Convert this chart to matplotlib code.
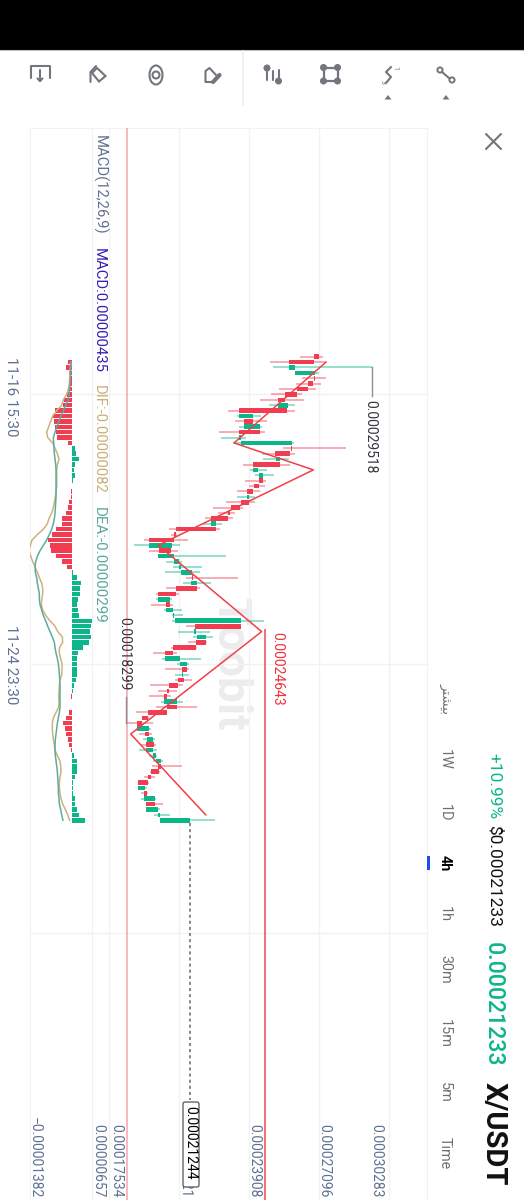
import numpy as np
import matplotlib
matplotlib.use("Agg")
import matplotlib.pyplot as plt
from matplotlib.patches import FancyBboxPatch, Ellipse, Circle, Polygon

# ---- data: prices in units of 1e-8 ----
opens = [27097,26885,25746,26005,26930,26839,26597,26096,25549,25246,25655,23469,24107,23682,24411,23454,
         23545,25883,25792,25124,25337,24077,24350,24547,24365,24107,23819,23910,23515,23060,22938,22164,
         22392,20585,20494,19356,20373,19781,20509,20707,20798,21375,21284,21557,20585,19750,
         20327,20115,20433,20540,23530,21420,21526,21951,21496,20449,20084,20767,21071,20858,20950,20676,
         20251,20160,20054,20616,20160,19325,19037,18794,19340,19249,19583,19219,19553,19674,19887,19796,
         19432,19325,18870,19249,19143,19629,19219,19766,19857]
highs = [27295,27416,29518,27097,27416,27173,26946,26338,26414,26005,26005,24471,24745,24502,24638,23758,
         25974,28312,26005,25716,25777,24745,25033,24669,24638,24411,24183,24183,23652,23272,23166,22665,
         22589,20616,21117,20783,20676,22862,20843,21784,21678,23394,22194,21678,20737,20388,
         20464,20858,20919,24593,23530,22134,22285,22012,21557,20646,21709,21192,21177,21192,21314,20919,
         20646,20358,20889,21557,20191,19356,19523,19462,19507,19614,19659,19735,19735,19978,20874,19857,
         19629,19371,19280,19310,19674,20008,19857,20312,22346]
lows = [26232,24866,25003,26005,26308,26035,25291,24912,24411,24836,22953,23378,23272,23469,22543,22650,
        23166,25473,24517,24562,23652,23955,24183,23712,23925,23378,23378,22847,22270,22513,21921,21830,
        20266,20342,19128,18688,19356,19781,20130,20464,20069,21025,20919,20115,19659,19659,
        19432,20054,20388,20388,21041,20692,21375,21147,20358,19553,19933,20646,20099,20540,20540,19401,
        19781,19356,19887,19659,18748,19022,18299,18794,18900,19098,18976,18915,19356,19553,19507,19401,
        19113,18840,18870,18991,18976,19219,19219,19599,19857]
closes = [26885,25746,26005,26915,26855,26581,26096,25549,25246,25671,23454,24107,23682,24411,23469,23530,
          25883,25807,25109,25337,24077,24335,24532,24380,24122,23834,23894,23530,23090,22953,22164,22392,
          20570,20494,19356,20388,19796,20494,20707,20798,21314,21314,21542,20585,19750,20312,
          20130,20449,20509,23530,21435,21511,21936,21496,20464,20084,20767,21071,20843,20919,20692,20251,
          20160,20054,20616,20160,19325,19037,18794,19340,19189,19553,19219,19553,19659,19902,19781,19447,
          19325,18870,19189,19128,19629,19219,19766,19857,21244]

macd_hist = [0,-142,-197,-88,-88,-88,-121,-175,-252,-307,-559,-614,-592,-559,-526,-504,-142,99,132,219,99,66,88,44,5,
             -22,-33,-88,-132,-197,-318,-329,-537,-647,-800,-723,-701,-526,-340,-175,22,175,307,263,263,186,
             153,186,241,658,625,603,636,570,373,197,175,175,175,175,142,66,22,-33,11,5,-99,-197,-285,-241,
             -208,-132,-88,-22,66,153,175,153,110,33,44,33,110,99,175,230,438]
dif = [np.nan,-44,-55,-66,-77,-88,-121,-175,-285,-340,-504,-636,-701,-767,-833,-800,-636,-559,-482,-427,-482,
       -504,-504,-504,-504,-526,-548,-581,-614,-669,-756,-811,-943,-1140,-1315,-1370,-1414,-1359,-1293,-1217,
       -1140,-1074,-997,-964,-964,-997,-1008,-964,-866,-723,-559,-471,-318,-307,-416,-416,-373,-329,-329,-340,
       -395,-416,-427,-438,-427,-438,-526,-614,-647,-647,-636,-614,-581,-559,-482,-395,-373,-362,-395,-416,
       -416,-395,-362,-307,-219,-142,-82]
dea = [np.nan,-33,-38,-44,-55,-66,-77,-99,-121,-208,-285,-362,-427,-504,-559,-614,-603,-592,-581,-559,-537,
       -526,-526,-526,-526,-526,-526,-537,-548,-559,-581,-614,-669,-745,-833,-943,-1052,-1140,-1195,-1217,
       -1206,-1162,-1140,-1107,-1074,-1074,-1052,-997,-943,-866,-800,-723,-647,-581,-559,-526,-482,-449,-427,
       -416,-405,-395,-395,-395,-395,-395,-416,-449,-482,-504,-526,-548,-559,-559,-548,-526,-504,-482,-471,
       -460,-449,-449,-427,-416,-373,-340,-299]

zigzag_idx = [1, 16, 21, 35, 51, 70, 85]
zigzag_price = [27416, 23227, 26839, 19781, 24487, 18521, 21936]

price_ticks = [17534, 20721, 23908, 27096, 30283]
price_labels = ["0.00017534", "0.00020721", "0.00023908", "0.00027096", "0.00030283"]
macd_ticks = [-1382, 657]
macd_labels = ["-0.00001382", "0.00000657"]
time_idx = [7, 57, 107]
time_labels = ["11-16 15:30", "11-24 23:30"]
timeframes = ["1W", "1D", "4h", "1h", "30m", "15m", "5m", "Time"]
high_price, low_price, line_price, last_price = 29518, 18299, 24643, 21244

# ---- styles ----
W, H = 524, 1200
RED, GREEN = "#f23c52", "#0db58a"
GRID = "#f2f2f2"
AXTXT = "#5f7192"
plt.rcParams["font.family"] = ["Roboto", "DejaVu Sans"]
fig = plt.figure(figsize=(W / 100, H / 100), dpi=100, facecolor="white")


def box(x0, x1, y0, y1, z):
    ax = fig.add_axes([x0 / W, 1 - y1 / H, (x1 - x0) / W, (y1 - y0) / H], zorder=z)
    ax.patch.set_alpha(0)
    return ax


def row_at(y):
    return (y - 356.7) / 5.39


YLIM = (row_at(1200), row_at(128))
S = 1e-8
PX = 45.54  # price units per pixel

under = box(0, W, 0, H, 0)
under.set_xlim(0, W); under.set_ylim(H, 0); under.axis("off")
under.text(230, 597, "Toobit", rotation=-90, rotation_mode="anchor", ha="left", va="center",
           fontsize=33, fontweight="bold", color="#ececec")

# frame with horizontal grid
frame = box(30, 427, 128, 1200, 1)
frame.set_ylim(*YLIM)
frame.set_xticks([])
frame.set_yticks(time_idx)
frame.grid(axis="y", color=GRID, lw=1)
frame.tick_params(length=0, labelleft=False)
frame.spines["bottom"].set_visible(False)
for k in ("top", "left", "right"):
    frame.spines[k].set_color(GRID)

# main candles
ax = box(109, 427, 128, 1200, 2)
ax.set_ylim(*YLIM)
ax.set_xlim(17534 * S, (17534 + 318 * PX) * S)
ax.set_xticks(np.array(price_ticks) * S)
ax.set_yticks([])
ax.grid(axis="x", color=GRID, lw=1)
ax.tick_params(length=0, labelbottom=False)
for s in ax.spines.values():
    s.set_visible(False)

idx = np.arange(len(opens))
o, h, l, c = [np.array(v, float) * S for v in (opens, highs, lows, closes)]
cols = [GREEN if cc >= oo else RED for oo, cc in zip(o, c)]
ax.hlines(idx, l, h, colors=cols, lw=1.2, alpha=0.5, zorder=3)
ax.barh(idx, np.abs(c - o), left=np.minimum(o, c), height=0.86, color=cols, lw=0, zorder=4)

ax.plot(np.array(zigzag_price) * S, zigzag_idx, color="#f04046", lw=1.1, zorder=5)
ax.axvline((17534 + 18 * PX) * S, color="#f7a3ab", lw=1.1, zorder=2)
ax.vlines(line_price * S, row_at(629), YLIM[0], color="#f0474f", lw=1.1, zorder=2)
ax.vlines(last_price * S, idx[-1] + 0.5, row_at(1100), color="#666666", lw=1.1,
          linestyles=(0, (2, 2)), zorder=2)
ax.plot([high_price * S, high_price * S], [2, row_at(396)], color="#8a8f96", lw=1, zorder=2)
ax.plot([low_price * S, low_price * S], [68, row_at(697)], color="#8a8f96", lw=1, zorder=6)

# MACD panel
mx = box(30, 92, 128, 1200, 2)
mx.set_ylim(*YLIM)
mx.set_xlim(macd_ticks[0] * S, macd_ticks[1] * S)
mx.set_xticks([]); mx.set_yticks([])
for k, s in mx.spines.items():
    s.set_visible(k == "right")
    s.set_color(GRID)
hv = np.array(macd_hist, float) * S
mx.barh(idx, hv, height=0.84, color=[GREEN if v >= 0 else RED for v in hv], lw=0, zorder=3)
mx.plot(np.array(dif) * S, idx, color="#cdb27e", lw=1.1, zorder=4)
mx.plot(np.array(dea) * S, idx, color="#5fab9f", lw=1.1, zorder=4)

# overlay: texts and toolbar
ov = box(0, W, 0, H, 10)
ov.set_xlim(0, W); ov.set_ylim(H, 0); ov.axis("off")


def rt(x, y, s, size=10, color=AXTXT, weight="normal", z=5):
    return ov.text(x - 2, y, s, rotation=-90, rotation_mode="anchor", ha="left", va="center",
                   fontsize=size, color=color, fontweight=weight, zorder=z)


for t, px in zip(price_labels, [118, 187, 256, 326, 378]):
    rt(px, 1124, t)
rt(37, 1117, macd_labels[0].replace("-", "\u2212"))
rt(100, 1124, macd_labels[1])
for t, y in zip(time_labels, [357, 625]):
    rt(13, y, t, size=10.8)
rt(372, 400, "0.00029518", color="#33373d")
rt(279, 632, "0.00024643", color="#ef2f3c")
rt(126, 617, "0.00018299", color="#33373d")

rt(101, 135, "MACD(12,26,9)", size=10.7)
rt(101, 248, "MACD:0.00000435", size=10.7, color="#3a1db0")
rt(101, 385, "DIF:-0.00000082", size=10.7, color="#c9ae78")
rt(101, 507, "DEA:-0.00000299", size=10.9, color="#5aa99a")

tf_y = [749, 804, 855, 906, 955, 1019, 1082, 1137]
for t, y in zip(timeframes, tf_y):
    rt(447, y, t, size=10.4, color="#000000" if t == "4h" else "#6b7078", weight="bold" if t == "4h" else "normal")
rt(447, 683, "\uFEAE\uFE98\uFEB8\uFBFF\uFE91", size=9.5, color="#6b7078")
ov.add_patch(plt.Rectangle((426.5, 856), 3, 14, color="#1f4fe0", lw=0))

rt(496, 753, "+10.99%", size=12.5, color="#0db58a")
rt(496, 825, "$0.00021233", size=12.5, color="#111111")
rt(495, 942, "0.00021233", size=16.7, color="#0db58a", weight="medium")
rt(496, 1082, "X/USDT", size=21, color="#111111", weight="bold")

ov.add_patch(FancyBboxPatch((183, 1102), 16, 85, boxstyle="round,pad=0,rounding_size=2",
                            fc="white", ec="#555555", lw=0.9, zorder=6))
rt(192, 1106, "0.00021244", color="#000000", z=7)

# chrome
ov.add_patch(plt.Rectangle((0, 0), W, 49.5, color="black", lw=0))
ov.plot([0, W], [50, 50], color="#bdbdbd", lw=0.8)
ov.plot([243, 243], [51, 105], color="#efefef", lw=1.2)
IC = "#71757c"


def pl(pts, lw=1.5, **kw):
    xs, ys = zip(*pts)
    ov.plot(xs, ys, color=IC, lw=lw, solid_capstyle="round", **kw)


pl([(486, 134), (501, 149)]); pl([(501, 134), (486, 149)])
pl([(31, 78), (31, 66), (49.5, 66), (49.5, 78)])
pl([(40, 70), (40, 81)]); pl([(37.5, 78.5), (40, 81), (42.5, 78.5)])
pl([(90.5, 82), (90.5, 72), (96, 66)])
ov.add_patch(Polygon([(97, 68), (105.5, 76), (99, 81.5), (92, 73)], fc="none", ec=IC, lw=1.5))
ov.add_patch(Ellipse((156, 75), 13, 19, fc="none", ec=IC, lw=1.5))
ov.add_patch(Circle((156, 75), 3.5, fc="none", ec=IC, lw=1.5))
pl([(205.5, 82), (205.5, 71), (209.5, 68), (216, 75)])
pl([(205.5, 82), (212, 82)])
pl([(213, 82), (219.5, 75)], lw=3)
pl([(267, 68), (267, 80)]); pl([(273, 71), (273, 80)]); pl([(278.5, 70), (278.5, 81)])
ov.add_patch(Circle((267, 68), 2.8, color=IC)); ov.add_patch(Circle((278.5, 81), 2.8, color=IC))
ov.add_patch(plt.Rectangle((323.5, 67.5), 14, 13.5, fc="none", ec=IC, lw=1.6))
for cx, cy in [(323.5, 67.5), (337.5, 67.5), (323.5, 81), (337.5, 81)]:
    ov.add_patch(Circle((cx, cy), 2.8, color=IC))
pl([(391, 67), (386, 72), (391, 77), (386, 83)])
ov.text(395, 68, "1", rotation=-90, fontsize=5, color=IC, ha="center", va="center")
ov.text(382, 82, "3", rotation=-90, fontsize=5, color=IC, ha="center", va="center")
pl([(442, 72), (449, 78)])
ov.add_patch(Circle((440, 70), 2.6, fc="white", ec=IC, lw=1.4))
ov.add_patch(Circle((452, 80), 2.6, fc="white", ec=IC, lw=1.4))
for tx in (388, 446):
    ov.add_patch(Polygon([(tx - 3.5, 99.5), (tx + 3.5, 99.5), (tx, 95)], color=IC, lw=0))

fig.savefig("out.png", dpi=100, facecolor="white")
